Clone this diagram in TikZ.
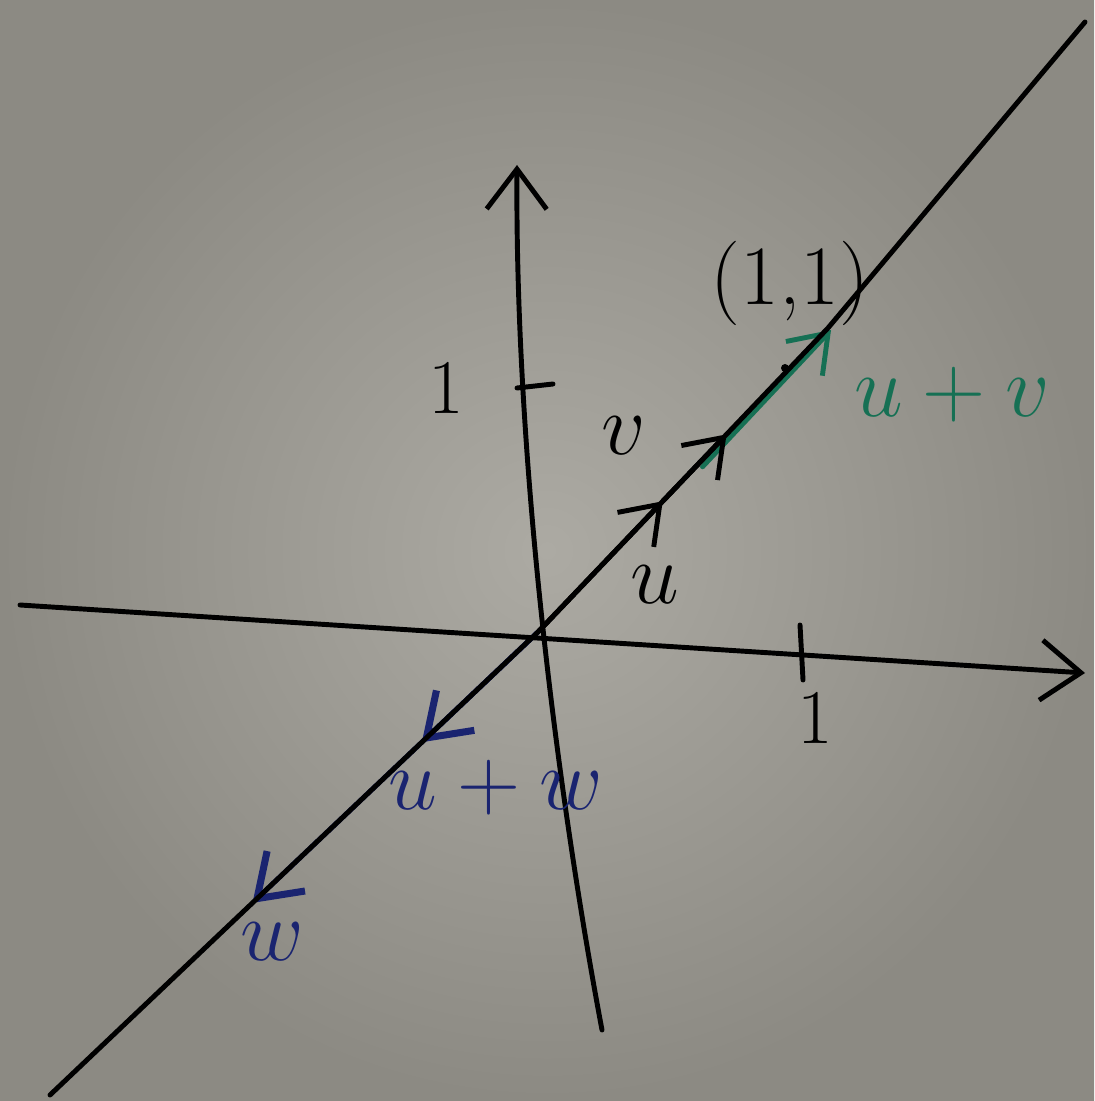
\documentclass[tikz,border=0pt]{standalone}
\usetikzlibrary{arrows.meta, positioning, calc}
\usepackage{xcolor}
\definecolor{boardlight}{RGB}{172,170,163}
\definecolor{boarddark}{RGB}{140,138,131}
\definecolor{markgreen}{RGB}{22,112,84}
\definecolor{markblue}{RGB}{26,36,112}

\begin{document}
\begin{tikzpicture}[
  x=0.01cm, y=-0.01cm,
  pen/.style={line width=1.4pt, black, line cap=round},
  axis/.style={pen, -{Straight Barb[length=4mm, width=6mm, line width=1.4pt]}},
  vec/.style={pen, -{Straight Barb[length=3.5mm, width=5mm, line width=1.4pt]}},
  bluevec/.style={pen, markblue, -{Straight Barb[length=4mm, width=5.5mm, line width=2pt]}},
  label/.style={font=\fontsize{24}{28}\selectfont, inner sep=1pt},
  tick/.style={font=\fontsize{22}{26}\selectfont, inner sep=1pt}
]

% board
\useasboundingbox (0,0) rectangle (1094,1101);
\shade[inner color=boardlight, outer color=boarddark] (0,0) rectangle (1094,1101);

\coordinate (O) at (538,632);
\coordinate (xl) at (20,605);
\coordinate (xr) at (1085,673);
\coordinate (yb) at (602,1030);
\coordinate (yt) at (517,165);
\coordinate (dl) at (50,1095);
\coordinate (dr) at (1085,22);
\coordinate (P) at (828,328);
\coordinate (u) at ($(O)!0.43!(P)$);
\coordinate (v) at ($(O)!0.65!(P)$);
\coordinate (gs) at ($(O)!0.55!(P)$);
\coordinate (uw) at ($(O)!0.238!(dl)$);
\coordinate (w) at ($(O)!0.585!(dl)$);

% blue vectors under the line
\draw [bluevec] (O) -- (uw);
\draw [bluevec] (O) -- (w);
\draw [vec, markgreen] ([shift={(5,2)}]gs) -- ([shift={(3,2)}]P);

% axes and the line
\draw [axis] (xl) -- (xr);
\draw [axis] (yb) .. controls (555,780) and (515,450) .. (yt);
\draw [pen] (dl) -- (O) -- (P) -- (dr);

% ticks
\coordinate (ty1) at (517,388);
\coordinate (ty2) at (553,384);
\coordinate (tx1) at (800,625);
\coordinate (tx2) at (803,680);
\draw [pen] (ty1) -- (ty2);
\draw [pen] (tx1) -- (tx2);
\node (one y) [tick, left=14pt of ty1] {1};
\node (one x) [tick] at (815,718) {1};

\draw [vec] (O) -- (u);
\draw [vec] (u) -- (v);
\fill (785,368) circle (4);

\node (pt) [label] at (790,283) {(1,1)};
\node (lu) [label] at (655,585) {$u$};
\node (lv) [label] at (624,436) {$v$};
\node (luv) [label, text=markgreen] at (952,395) {$u+v$};
\node (luw) [label, text=markblue] at (496,788) {$u+w$};
\node (lw) [label, text=markblue] at (272,942) {$w$};

\end{tikzpicture}
\end{document}
